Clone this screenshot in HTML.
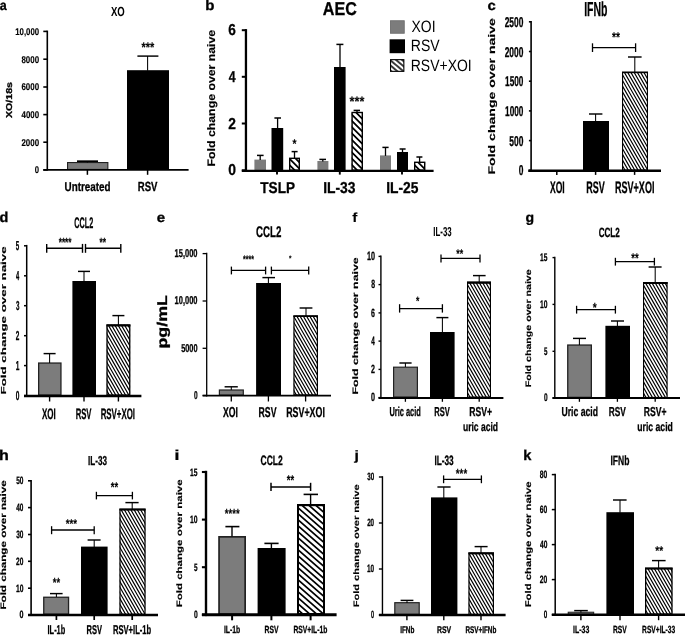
<!DOCTYPE html>
<html lang="en"><head><meta charset="utf-8"><title>Figure</title>
<style>
html,body{margin:0;padding:0;background:#fff;overflow:hidden}
svg{display:block;filter:blur(0.38px)}
text{font-family:"Liberation Sans",Arial,Helvetica,sans-serif;font-weight:700;fill:#000;text-rendering:geometricPrecision}
text.r{font-weight:400}
</style></head><body>
<svg width="685" height="635" viewBox="0 0 685 635">
<defs><pattern id="hl" width="3.9" height="900" patternUnits="userSpaceOnUse" patternTransform="rotate(-50)"><rect width="3.9" height="900" fill="#fff"/><rect x="1.2" width="1.5" height="900" fill="#000"/></pattern></defs>
<rect width="685" height="635" fill="#fff"/>
<text stroke="#000" stroke-width="0.3" transform="translate(-0.23 10.21) scale(0.9063 1)" font-size="13.82">a</text>
<text transform="translate(110.9 15.77) scale(0.7305 1)" font-size="13.1">XO</text>
<text stroke="#000" stroke-width="0.15" transform="translate(15.21 34.73) scale(0.7990 1)" font-size="9.79">10,000</text>
<text stroke="#000" stroke-width="0.15" transform="translate(21.44 62.53) scale(0.8130 1)" font-size="9.79">8000</text>
<text stroke="#000" stroke-width="0.15" transform="translate(21.4 90.33) scale(0.8149 1)" font-size="9.79">6000</text>
<text stroke="#000" stroke-width="0.15" transform="translate(21.56 117.93) scale(0.8074 1)" font-size="9.79">4000</text>
<text stroke="#000" stroke-width="0.15" transform="translate(21.4 145.53) scale(0.8149 1)" font-size="9.79">2000</text>
<text stroke="#000" stroke-width="0.15" transform="translate(34.87 173.33) scale(0.7850 1)" font-size="9.79">0</text>
<rect x="67.55" y="162.55" width="40.3" height="6.9" fill="#7c7c7c" stroke="#222" stroke-width="1.1"/>
<rect x="127" y="70.2" width="42" height="99.8" fill="#000"/>
<path d="M87.4 161.2L87.4 162.5" stroke="#000" stroke-width="1.05"/>
<path d="M77 161.2L98 161.2" stroke="#000" stroke-width="1.7"/>
<path d="M147.6 56.1L147.6 70.7" stroke="#000" stroke-width="1.05"/>
<path d="M137.4 56.1L158.4 56.1" stroke="#000" stroke-width="1.45"/>
<text stroke="#000" stroke-width="0.12" transform="translate(141.51 51.62) scale(0.7808 1)" font-size="14">***</text>
<text stroke="#000" stroke-width="0.3" transform="translate(64.56 190.62) scale(0.7699 1)" font-size="12.79">Untreated</text>
<text stroke="#000" stroke-width="0.3" transform="translate(137.73 190.62) scale(0.7230 1)" font-size="13.24">RSV</text>
<text stroke="#000" stroke-width="0.3" transform="translate(11.63 118.11) rotate(-90) scale(1.2407 1)" font-size="8.59">XO/18s</text>
<text stroke="#000" stroke-width="0.3" transform="translate(205.27 10.21) scale(1.0844 1)" font-size="13.88">b</text>
<text stroke="#000" stroke-width="0.3" transform="translate(322.75 15.36) scale(0.8702 1)" font-size="18.52">AEC</text>
<text stroke="#000" stroke-width="0.3" transform="translate(228.37 35.39) scale(0.8627 1)" font-size="15.77">6</text>
<text stroke="#000" stroke-width="0.3" transform="translate(228.66 81.99) scale(0.7820 1)" font-size="15.77">4</text>
<text stroke="#000" stroke-width="0.3" transform="translate(228.37 128.69) scale(0.8717 1)" font-size="15.77">2</text>
<text stroke="#000" stroke-width="0.3" transform="translate(228.29 175.49) scale(0.8808 1)" font-size="15.77">0</text>
<rect x="254.4" y="159.6" width="11.6" height="11.2" fill="#7c7c7c"/>
<path d="M260.2 155.4L260.2 160.1" stroke="#000" stroke-width="1.3"/>
<path d="M257 155.4L263.6 155.4" stroke="#000" stroke-width="1.5"/>
<rect x="271.5" y="128" width="11.7" height="42.8" fill="#000"/>
<path d="M277.6 118L277.6 128.5" stroke="#000" stroke-width="1.3"/>
<path d="M274.4 118L281 118" stroke="#000" stroke-width="1.5"/>
<rect x="289" y="157.6" width="11" height="13.2" fill="#fff"/>
<clipPath id="c1"><rect x="289.3" y="157.9" width="10.4" height="12.9"/></clipPath>
<path clip-path="url(#c1)" d="M268.5 156.6L283.7 171.8M274.8 156.6L290 171.8M281.1 156.6L296.3 171.8M287.4 156.6L302.6 171.8M293.7 156.6L308.9 171.8" stroke="#000" stroke-width="1.75" fill="none"/>
<rect x="289.7" y="158.3" width="9.6" height="11.8" fill="none" stroke="#000" stroke-width="1.4"/>
<path d="M294.5 151.6L294.5 158.1" stroke="#000" stroke-width="1.3"/>
<path d="M291.6 151.6L297.6 151.6" stroke="#000" stroke-width="1.5"/>
<rect x="317.4" y="161" width="11" height="9.8" fill="#7c7c7c"/>
<path d="M322.8 159.4L322.8 161.5" stroke="#000" stroke-width="1.3"/>
<path d="M319.4 159.4L326 159.4" stroke="#000" stroke-width="1.5"/>
<rect x="334" y="67" width="11.6" height="103.8" fill="#000"/>
<path d="M340 44.4L340 67.5" stroke="#000" stroke-width="1.3"/>
<path d="M336.4 44.4L343.4 44.4" stroke="#000" stroke-width="1.5"/>
<rect x="351.4" y="111.8" width="11.6" height="59" fill="#fff"/>
<clipPath id="c2"><rect x="351.7" y="112.1" width="11" height="58.7"/></clipPath>
<path clip-path="url(#c2)" d="M285.1 110.8L346.1 171.8M291.4 110.8L352.4 171.8M297.7 110.8L358.7 171.8M304 110.8L365 171.8M310.3 110.8L371.3 171.8M316.6 110.8L377.6 171.8M322.9 110.8L383.9 171.8M329.2 110.8L390.2 171.8M335.5 110.8L396.5 171.8M341.8 110.8L402.8 171.8M348.1 110.8L409.1 171.8M354.4 110.8L415.4 171.8M360.7 110.8L421.7 171.8" stroke="#000" stroke-width="1.75" fill="none"/>
<rect x="352.1" y="112.5" width="10.2" height="57.6" fill="none" stroke="#000" stroke-width="1.4"/>
<path d="M357 110.4L357 112.5" stroke="#000" stroke-width="1.3"/>
<path d="M353.6 110.4L360 110.4" stroke="#000" stroke-width="1.5"/>
<rect x="380" y="155.4" width="11" height="15.4" fill="#7c7c7c"/>
<path d="M385.5 147.4L385.5 155.9" stroke="#000" stroke-width="1.3"/>
<path d="M382.4 147.4L388.6 147.4" stroke="#000" stroke-width="1.5"/>
<rect x="397" y="152" width="11" height="18.8" fill="#000"/>
<path d="M402.5 149L402.5 152.5" stroke="#000" stroke-width="1.3"/>
<path d="M399.6 149L405.6 149" stroke="#000" stroke-width="1.5"/>
<rect x="414" y="161.6" width="11.4" height="9.2" fill="#fff"/>
<clipPath id="c3"><rect x="414.3" y="161.9" width="10.8" height="8.9"/></clipPath>
<path clip-path="url(#c3)" d="M397.5 160.6L408.7 171.8M403.8 160.6L415 171.8M410.1 160.6L421.3 171.8M416.4 160.6L427.6 171.8M422.7 160.6L433.9 171.8" stroke="#000" stroke-width="1.75" fill="none"/>
<rect x="414.7" y="162.3" width="10" height="7.8" fill="none" stroke="#000" stroke-width="1.4"/>
<path d="M419.6 157L419.6 162.1" stroke="#000" stroke-width="1.3"/>
<path d="M416.4 157L422.4 157" stroke="#000" stroke-width="1.5"/>
<text stroke="#000" stroke-width="0.12" transform="translate(292.41 148.39) scale(0.8072 1)" font-size="12.65">*</text>
<text stroke="#000" stroke-width="0.12" transform="translate(349.6 105.93) scale(0.9217 1)" font-size="13.73">***</text>
<text stroke="#000" stroke-width="0.3" transform="translate(260.31 193.35) scale(0.8583 1)" font-size="15.8">TSLP</text>
<text stroke="#000" stroke-width="0.3" transform="translate(323.15 193.35) scale(0.8780 1)" font-size="15.8">IL-33</text>
<text stroke="#000" stroke-width="0.3" transform="translate(386.15 193.35) scale(0.8741 1)" font-size="15.8">IL-25</text>
<text stroke="#000" stroke-width="0.15" transform="translate(214.51 166.4) rotate(-90) scale(1.1268 1)" font-size="10.91">Fold change over naive</text>
<rect x="390.45" y="20.75" width="13.8" height="12.5" fill="#7c7c7c" stroke="#6e6e6e" stroke-width="0.9"/>
<rect x="389.6" y="39.3" width="15.4" height="13.9" fill="#000"/>
<rect x="390.55" y="59.65" width="13.3" height="11.7" fill="url(#hl)" stroke="#000" stroke-width="1.1"/>
<text class="r" transform="translate(411.55 32.1) scale(0.8522 1)" font-size="16.38">XOI</text>
<text class="r" transform="translate(410.78 51.4) scale(0.8480 1)" font-size="16.52">RSV</text>
<text class="r" transform="translate(410.78 70.8) scale(0.8451 1)" font-size="16.52">RSV+XOI</text>
<text stroke="#000" stroke-width="0.3" transform="translate(487.46 10.02) scale(1.1034 1)" font-size="13.45">c</text>
<text stroke="#000" stroke-width="0.3" transform="translate(584.17 15.65) scale(0.5173 1)" font-size="20.29">IFNb</text>
<text stroke="#000" stroke-width="0.3" transform="translate(504.66 26.91) scale(0.5918 1)" font-size="14.23">2500</text>
<text stroke="#000" stroke-width="0.3" transform="translate(504.66 56.61) scale(0.5918 1)" font-size="14.23">2000</text>
<text stroke="#000" stroke-width="0.3" transform="translate(505.06 86.31) scale(0.5789 1)" font-size="14.23">1500</text>
<text stroke="#000" stroke-width="0.3" transform="translate(505.06 116.01) scale(0.5789 1)" font-size="14.23">1000</text>
<text stroke="#000" stroke-width="0.3" transform="translate(509.3 145.71) scale(0.5950 1)" font-size="14.23">500</text>
<text stroke="#000" stroke-width="0.3" transform="translate(518.71 175.41) scale(0.5920 1)" font-size="14.23">0</text>
<rect x="583" y="121" width="26" height="49.6" fill="#000"/>
<path d="M595.6 114L595.6 121.5" stroke="#000" stroke-width="1.05"/>
<path d="M589 114L602.4 114" stroke="#000" stroke-width="1.45"/>
<rect x="622" y="71.7" width="26" height="98.9" fill="#fff"/>
<clipPath id="c4"><rect x="622.3" y="72" width="25.4" height="98.6"/></clipPath>
<path clip-path="url(#c4)" d="M561.24 69.95L619.75 172.35M564.49 69.95L623 172.35M567.74 69.95L626.25 172.35M570.99 69.95L629.5 172.35M574.24 69.95L632.75 172.35M577.49 69.95L636 172.35M580.74 69.95L639.25 172.35M583.99 69.95L642.5 172.35M587.24 69.95L645.75 172.35M590.49 69.95L649 172.35M593.74 69.95L652.25 172.35M596.99 69.95L655.5 172.35M600.24 69.95L658.75 172.35M603.49 69.95L662 172.35M606.74 69.95L665.25 172.35M609.99 69.95L668.5 172.35M613.24 69.95L671.75 172.35M616.49 69.95L675 172.35M619.74 69.95L678.25 172.35M622.99 69.95L681.5 172.35M626.24 69.95L684.75 172.35M629.49 69.95L688 172.35M632.74 69.95L691.25 172.35M635.99 69.95L694.5 172.35M639.24 69.95L697.75 172.35M642.49 69.95L701 172.35M645.74 69.95L704.25 172.35" stroke="#000" stroke-width="1.18" fill="none"/>
<rect x="622.55" y="72.25" width="24.9" height="97.8" fill="none" stroke="#000" stroke-width="1.1"/>
<rect x="622" y="71.7" width="26" height="1.5" fill="#000"/>
<path d="M634.8 57L634.8 72.1" stroke="#000" stroke-width="1.05"/>
<path d="M628 57L641.6 57" stroke="#000" stroke-width="1.45"/>
<path d="M592.5 47.7L635.6 47.7" stroke="#000" stroke-width="1.3"/>
<path d="M592.5 43.3L592.5 52" stroke="#000" stroke-width="1.3"/>
<path d="M635.6 43.3L635.6 52" stroke="#000" stroke-width="1.3"/>
<text stroke="#000" stroke-width="0.12" transform="translate(612.01 42.11) scale(0.7171 1)" font-size="14.27">**</text>
<text stroke="#000" stroke-width="0.3" transform="translate(549.96 193.25) scale(0.5143 1)" font-size="16.67">XOI</text>
<text stroke="#000" stroke-width="0.3" transform="translate(586.26 193.25) scale(0.5411 1)" font-size="16.67">RSV</text>
<text stroke="#000" stroke-width="0.3" transform="translate(614.96 193.25) scale(0.5433 1)" font-size="16.67">RSV+XOI</text>
<text stroke="#000" stroke-width="0.15" transform="translate(495.18 174.51) rotate(-90) scale(1.4619 1)" font-size="9.63">Fold change over naive</text>
<text stroke="#000" stroke-width="0.3" transform="translate(-0.43 222.01) scale(1.0216 1)" font-size="14.15">d</text>
<text stroke="#000" stroke-width="0.3" transform="translate(74.36 228.25) scale(0.4708 1)" font-size="15.36">CCL2</text>
<text stroke="#000" stroke-width="0.3" transform="translate(15.86 249.72) scale(0.4785 1)" font-size="12.96">5</text>
<text stroke="#000" stroke-width="0.3" transform="translate(15.96 279.72) scale(0.4472 1)" font-size="12.96">4</text>
<text stroke="#000" stroke-width="0.3" transform="translate(15.89 309.62) scale(0.4833 1)" font-size="12.96">3</text>
<text stroke="#000" stroke-width="0.3" transform="translate(15.82 339.62) scale(0.4984 1)" font-size="12.96">2</text>
<text stroke="#000" stroke-width="0.3" transform="translate(15.65 369.52) scale(0.5090 1)" font-size="12.96">1</text>
<text stroke="#000" stroke-width="0.3" transform="translate(15.79 399.52) scale(0.5037 1)" font-size="12.96">0</text>
<rect x="38.65" y="363.05" width="22.3" height="32" fill="#7c7c7c" stroke="#222" stroke-width="1.3"/>
<path d="M49.6 353.6L49.6 362.9" stroke="#000" stroke-width="1.05"/>
<path d="M43.6 353.6L55.6 353.6" stroke="#000" stroke-width="1.45"/>
<rect x="72.4" y="281" width="23.6" height="114.7" fill="#000"/>
<path d="M84 271.4L84 281.5" stroke="#000" stroke-width="1.05"/>
<path d="M78 271.4L90 271.4" stroke="#000" stroke-width="1.45"/>
<rect x="106.4" y="324.4" width="24" height="71.3" fill="#fff"/>
<clipPath id="c5"><rect x="106.7" y="324.7" width="23.4" height="71"/></clipPath>
<path clip-path="url(#c5)" d="M61.41 322.65L104.15 397.45M64.66 322.65L107.4 397.45M67.91 322.65L110.65 397.45M71.16 322.65L113.9 397.45M74.41 322.65L117.15 397.45M77.66 322.65L120.4 397.45M80.91 322.65L123.65 397.45M84.16 322.65L126.9 397.45M87.41 322.65L130.15 397.45M90.66 322.65L133.4 397.45M93.91 322.65L136.65 397.45M97.16 322.65L139.9 397.45M100.41 322.65L143.15 397.45M103.66 322.65L146.4 397.45M106.91 322.65L149.65 397.45M110.16 322.65L152.9 397.45M113.41 322.65L156.15 397.45M116.66 322.65L159.4 397.45M119.91 322.65L162.65 397.45M123.16 322.65L165.9 397.45M126.41 322.65L169.15 397.45M129.66 322.65L172.4 397.45" stroke="#000" stroke-width="1.18" fill="none"/>
<rect x="107.05" y="325.05" width="22.7" height="70" fill="none" stroke="#000" stroke-width="1.3"/>
<rect x="106.4" y="324.4" width="24" height="2.1" fill="#000"/>
<path d="M118.4 315.6L118.4 324.9" stroke="#000" stroke-width="1.05"/>
<path d="M112.4 315.6L124.4 315.6" stroke="#000" stroke-width="1.45"/>
<path d="M46.7 248.2L82.5 248.2" stroke="#000" stroke-width="1.4"/>
<path d="M46.7 243.9L46.7 252.8" stroke="#000" stroke-width="1.4"/>
<path d="M82.5 243.9L82.5 252.8" stroke="#000" stroke-width="1.4"/>
<path d="M85.5 248.2L120.8 248.2" stroke="#000" stroke-width="1.4"/>
<path d="M85.5 243.9L85.5 252.8" stroke="#000" stroke-width="1.4"/>
<path d="M120.8 243.9L120.8 252.8" stroke="#000" stroke-width="1.4"/>
<text stroke="#000" stroke-width="0.12" transform="translate(58.72 247.25) scale(0.6098 1)" font-size="13.46">****</text>
<text stroke="#000" stroke-width="0.12" transform="translate(99.42 247.25) scale(0.6253 1)" font-size="13.46">**</text>
<text stroke="#000" stroke-width="0.3" transform="translate(41.97 418.55) scale(0.5273 1)" font-size="15.22">XOI</text>
<text stroke="#000" stroke-width="0.3" transform="translate(75.65 418.55) scale(0.5065 1)" font-size="15.22">RSV</text>
<text stroke="#000" stroke-width="0.3" transform="translate(100.64 418.55) scale(0.5173 1)" font-size="15.22">RSV+XOI</text>
<text stroke="#000" stroke-width="0.15" transform="translate(5.67 394.47) rotate(-90) scale(1.8337 1)" font-size="7.27">Fold change over naive</text>
<text stroke="#000" stroke-width="0.3" transform="translate(156.75 222.01) scale(1.1000 1)" font-size="13.64">e</text>
<text stroke="#000" stroke-width="0.3" transform="translate(256.06 236.85) scale(0.6270 1)" font-size="15.51">CCL2</text>
<text stroke="#000" stroke-width="0.3" transform="translate(174.6 257.04) scale(0.6574 1)" font-size="11.41">15,000</text>
<text stroke="#000" stroke-width="0.3" transform="translate(174.6 304.44) scale(0.6574 1)" font-size="11.41">10,000</text>
<text stroke="#000" stroke-width="0.3" transform="translate(181.13 351.74) scale(0.6467 1)" font-size="11.41">5000</text>
<text stroke="#000" stroke-width="0.3" transform="translate(193.89 398.94) scale(0.5721 1)" font-size="11.41">0</text>
<rect x="219.4" y="390" width="23.9" height="5.1" fill="#7c7c7c" stroke="#222" stroke-width="1.2"/>
<path d="M231.3 386.8L231.3 390.1" stroke="#000" stroke-width="1.05"/>
<path d="M224.6 386.8L237.8 386.8" stroke="#000" stroke-width="1.45"/>
<rect x="256.1" y="283" width="24.9" height="112.5" fill="#000"/>
<path d="M268.4 277.6L268.4 283.5" stroke="#000" stroke-width="1.05"/>
<path d="M262.4 277.6L275 277.6" stroke="#000" stroke-width="1.45"/>
<rect x="293.4" y="315.4" width="24.6" height="80.1" fill="#fff"/>
<clipPath id="c6"><rect x="293.7" y="315.7" width="24" height="79.8"/></clipPath>
<path clip-path="url(#c6)" d="M243.38 313.65L291.15 397.25M246.63 313.65L294.4 397.25M249.88 313.65L297.65 397.25M253.13 313.65L300.9 397.25M256.38 313.65L304.15 397.25M259.63 313.65L307.4 397.25M262.88 313.65L310.65 397.25M266.13 313.65L313.9 397.25M269.38 313.65L317.15 397.25M272.63 313.65L320.4 397.25M275.88 313.65L323.65 397.25M279.13 313.65L326.9 397.25M282.38 313.65L330.15 397.25M285.63 313.65L333.4 397.25M288.88 313.65L336.65 397.25M292.13 313.65L339.9 397.25M295.38 313.65L343.15 397.25M298.63 313.65L346.4 397.25M301.88 313.65L349.65 397.25M305.13 313.65L352.9 397.25M308.38 313.65L356.15 397.25M311.63 313.65L359.4 397.25M314.88 313.65L362.65 397.25" stroke="#000" stroke-width="1.18" fill="none"/>
<rect x="294" y="316" width="23.4" height="78.9" fill="none" stroke="#000" stroke-width="1.2"/>
<rect x="293.4" y="315.4" width="24.6" height="1.6" fill="#000"/>
<path d="M306 308L306 315.9" stroke="#000" stroke-width="1.05"/>
<path d="M299.6 308L312.4 308" stroke="#000" stroke-width="1.45"/>
<path d="M231.4 270.4L265.6 270.4" stroke="#000" stroke-width="1.3"/>
<path d="M231.4 266.6L231.4 274.4" stroke="#000" stroke-width="1.3"/>
<path d="M265.6 266.6L265.6 274.4" stroke="#000" stroke-width="1.3"/>
<path d="M271.4 270.4L308.7 270.4" stroke="#000" stroke-width="1.3"/>
<path d="M271.4 266.6L271.4 274.4" stroke="#000" stroke-width="1.3"/>
<path d="M308.7 266.6L308.7 274.4" stroke="#000" stroke-width="1.3"/>
<text stroke="#000" stroke-width="0.12" transform="translate(243.02 262.87) scale(0.6386 1)" font-size="11.03">****</text>
<text stroke="#000" stroke-width="0.12" transform="translate(289.03 261.42) scale(0.7776 1)" font-size="8.05">*</text>
<text stroke="#000" stroke-width="0.3" transform="translate(223.06 417.45) scale(0.6059 1)" font-size="14.35">XOI</text>
<text stroke="#000" stroke-width="0.3" transform="translate(258.58 417.45) scale(0.6074 1)" font-size="14.35">RSV</text>
<text stroke="#000" stroke-width="0.3" transform="translate(286.17 417.45) scale(0.6179 1)" font-size="14.35">RSV+XOI</text>
<text stroke="#000" stroke-width="0.3" transform="translate(167.44 348.56) rotate(-90) scale(1.2631 1)" font-size="14.12">pg/mL</text>
<text stroke="#000" stroke-width="0.1" transform="translate(352.22 222.25) scale(1.1564 1)" font-size="13.24">f</text>
<text stroke="#000" stroke-width="0.05" transform="translate(433.31 236.17) scale(0.6054 1)" font-size="12.97">IL-33</text>
<text stroke="#000" stroke-width="0.3" transform="translate(367.02 260.03) scale(0.6037 1)" font-size="11.97">10</text>
<text stroke="#000" stroke-width="0.3" transform="translate(371.14 288.23) scale(0.5737 1)" font-size="11.97">8</text>
<text stroke="#000" stroke-width="0.3" transform="translate(371.1 316.53) scale(0.5856 1)" font-size="11.97">6</text>
<text stroke="#000" stroke-width="0.3" transform="translate(371.25 344.73) scale(0.5308 1)" font-size="11.97">4</text>
<text stroke="#000" stroke-width="0.3" transform="translate(371.1 373.03) scale(0.5917 1)" font-size="11.97">2</text>
<text stroke="#000" stroke-width="0.3" transform="translate(371.06 401.23) scale(0.5979 1)" font-size="11.97">0</text>
<rect x="393.6" y="367.2" width="23.8" height="29.8" fill="#7c7c7c" stroke="#222" stroke-width="1.2"/>
<path d="M405.4 363L405.4 367.1" stroke="#000" stroke-width="1.05"/>
<path d="M399.4 363L411.6 363" stroke="#000" stroke-width="1.45"/>
<rect x="430" y="332" width="24.6" height="65.6" fill="#000"/>
<path d="M442.4 317.6L442.4 332.5" stroke="#000" stroke-width="1.05"/>
<path d="M436.4 317.6L448.4 317.6" stroke="#000" stroke-width="1.45"/>
<rect x="467" y="281.6" width="24" height="116" fill="#fff"/>
<clipPath id="c7"><rect x="467.3" y="281.9" width="23.4" height="115.7"/></clipPath>
<path clip-path="url(#c7)" d="M396.46 279.85L464.75 399.35M399.71 279.85L468 399.35M402.96 279.85L471.25 399.35M406.21 279.85L474.5 399.35M409.46 279.85L477.75 399.35M412.71 279.85L481 399.35M415.96 279.85L484.25 399.35M419.21 279.85L487.5 399.35M422.46 279.85L490.75 399.35M425.71 279.85L494 399.35M428.96 279.85L497.25 399.35M432.21 279.85L500.5 399.35M435.46 279.85L503.75 399.35M438.71 279.85L507 399.35M441.96 279.85L510.25 399.35M445.21 279.85L513.5 399.35M448.46 279.85L516.75 399.35M451.71 279.85L520 399.35M454.96 279.85L523.25 399.35M458.21 279.85L526.5 399.35M461.46 279.85L529.75 399.35M464.71 279.85L533 399.35M467.96 279.85L536.25 399.35M471.21 279.85L539.5 399.35M474.46 279.85L542.75 399.35M477.71 279.85L546 399.35M480.96 279.85L549.25 399.35M484.21 279.85L552.5 399.35M487.46 279.85L555.75 399.35M490.71 279.85L559 399.35" stroke="#000" stroke-width="1.18" fill="none"/>
<rect x="467.55" y="282.15" width="22.9" height="114.9" fill="none" stroke="#000" stroke-width="1.1"/>
<rect x="467" y="281.6" width="24" height="2.2" fill="#000"/>
<path d="M479.2 275.6L479.2 282.1" stroke="#000" stroke-width="1.05"/>
<path d="M473 275.6L485.6 275.6" stroke="#000" stroke-width="1.45"/>
<path d="M399.6 308.6L442.4 308.6" stroke="#000" stroke-width="1.3"/>
<path d="M399.6 304.2L399.6 312.6" stroke="#000" stroke-width="1.3"/>
<path d="M442.4 304.2L442.4 312.6" stroke="#000" stroke-width="1.3"/>
<text stroke="#000" stroke-width="0.12" transform="translate(416.02 305.41) scale(0.7129 1)" font-size="12.11">*</text>
<path d="M441 258.4L480 258.4" stroke="#000" stroke-width="1.3"/>
<path d="M441 254.6L441 262.6" stroke="#000" stroke-width="1.3"/>
<path d="M480 254.6L480 262.6" stroke="#000" stroke-width="1.3"/>
<text stroke="#000" stroke-width="0.12" transform="translate(456.22 257.99) scale(0.7064 1)" font-size="12.65">**</text>
<text stroke="#000" stroke-width="0.3" transform="translate(389.4 416.32) scale(0.5722 1)" font-size="13">Uric acid</text>
<text stroke="#000" stroke-width="0.3" transform="translate(434.26 416.32) scale(0.5813 1)" font-size="13">RSV</text>
<text stroke="#000" stroke-width="0.3" transform="translate(469.29 416.32) scale(0.6645 1)" font-size="13">RSV+</text>
<text stroke="#000" stroke-width="0.3" transform="translate(462.94 430.93) scale(0.6891 1)" font-size="12.38">uric acid</text>
<text stroke="#000" stroke-width="0.15" transform="translate(357.94 394.6) rotate(-90) scale(1.5623 1)" font-size="7.91">Fold change over naive</text>
<text stroke="#000" stroke-width="0.3" transform="translate(525.59 222.29) scale(1.0338 1)" font-size="13.6">g</text>
<text stroke="#000" stroke-width="0.3" transform="translate(598.63 237.15) scale(0.6077 1)" font-size="13.33">CCL2</text>
<text stroke="#000" stroke-width="0.3" transform="translate(540.05 261.04) scale(0.6039 1)" font-size="10.99">15</text>
<text stroke="#000" stroke-width="0.3" transform="translate(540.05 307.84) scale(0.6128 1)" font-size="10.99">10</text>
<text stroke="#000" stroke-width="0.3" transform="translate(543.96 354.74) scale(0.5644 1)" font-size="10.99">5</text>
<text stroke="#000" stroke-width="0.3" transform="translate(543.89 401.44) scale(0.5941 1)" font-size="10.99">0</text>
<rect x="567.75" y="345.05" width="23.6" height="52.3" fill="#7c7c7c" stroke="#222" stroke-width="1.3"/>
<path d="M579.4 338.4L579.4 344.9" stroke="#000" stroke-width="1.05"/>
<path d="M573 338.4L586 338.4" stroke="#000" stroke-width="1.45"/>
<rect x="605.4" y="325.8" width="24.6" height="72.2" fill="#000"/>
<path d="M617.4 321L617.4 326.3" stroke="#000" stroke-width="1.05"/>
<path d="M611 321L624 321" stroke="#000" stroke-width="1.45"/>
<rect x="643" y="282" width="24.6" height="116" fill="#fff"/>
<clipPath id="c8"><rect x="643.3" y="282.3" width="24" height="115.7"/></clipPath>
<path clip-path="url(#c8)" d="M572.46 280.25L640.75 399.75M575.71 280.25L644 399.75M578.96 280.25L647.25 399.75M582.21 280.25L650.5 399.75M585.46 280.25L653.75 399.75M588.71 280.25L657 399.75M591.96 280.25L660.25 399.75M595.21 280.25L663.5 399.75M598.46 280.25L666.75 399.75M601.71 280.25L670 399.75M604.96 280.25L673.25 399.75M608.21 280.25L676.5 399.75M611.46 280.25L679.75 399.75M614.71 280.25L683 399.75M617.96 280.25L686.25 399.75M621.21 280.25L689.5 399.75M624.46 280.25L692.75 399.75M627.71 280.25L696 399.75M630.96 280.25L699.25 399.75M634.21 280.25L702.5 399.75M637.46 280.25L705.75 399.75M640.71 280.25L709 399.75M643.96 280.25L712.25 399.75M647.21 280.25L715.5 399.75M650.46 280.25L718.75 399.75M653.71 280.25L722 399.75M656.96 280.25L725.25 399.75M660.21 280.25L728.5 399.75M663.46 280.25L731.75 399.75M666.71 280.25L735 399.75" stroke="#000" stroke-width="1.18" fill="none"/>
<rect x="643.55" y="282.55" width="23.5" height="114.9" fill="none" stroke="#000" stroke-width="1.1"/>
<rect x="643" y="282" width="24.6" height="2" fill="#000"/>
<path d="M655.2 267L655.2 282.5" stroke="#000" stroke-width="1.05"/>
<path d="M648.6 267L661.6 267" stroke="#000" stroke-width="1.45"/>
<path d="M576.6 309.6L615.4 309.6" stroke="#000" stroke-width="1.3"/>
<path d="M576.6 305.8L576.6 313.6" stroke="#000" stroke-width="1.3"/>
<path d="M615.4 305.8L615.4 313.6" stroke="#000" stroke-width="1.3"/>
<text stroke="#000" stroke-width="0.12" transform="translate(592.81 312.16) scale(0.7742 1)" font-size="13.19">*</text>
<path d="M615.4 261.6L654.4 261.6" stroke="#000" stroke-width="1.3"/>
<path d="M615.4 257.8L615.4 265.6" stroke="#000" stroke-width="1.3"/>
<path d="M654.4 257.8L654.4 265.6" stroke="#000" stroke-width="1.3"/>
<text stroke="#000" stroke-width="0.12" transform="translate(631.21 262.91) scale(0.6625 1)" font-size="14.27">**</text>
<text stroke="#000" stroke-width="0.3" transform="translate(561.43 416.32) scale(0.6642 1)" font-size="13">Uric acid</text>
<text stroke="#000" stroke-width="0.3" transform="translate(608.71 416.32) scale(0.6394 1)" font-size="13">RSV</text>
<text stroke="#000" stroke-width="0.3" transform="translate(643.79 416.32) scale(0.6615 1)" font-size="13">RSV+</text>
<text stroke="#000" stroke-width="0.3" transform="translate(637.23 430.93) scale(0.6993 1)" font-size="12.38">uric acid</text>
<text stroke="#000" stroke-width="0.15" transform="translate(530.74 387.29) rotate(-90) scale(1.3421 1)" font-size="7.91">Fold change over naive</text>
<text stroke="#000" stroke-width="0.3" transform="translate(-0.97 460.05) scale(1.1291 1)" font-size="14.21">h</text>
<text stroke="#000" stroke-width="0.3" transform="translate(88.02 464.55) scale(0.6209 1)" font-size="13.04">IL-33</text>
<text stroke="#000" stroke-width="0.3" transform="translate(16.15 484.24) scale(0.6108 1)" font-size="10.7">50</text>
<text stroke="#000" stroke-width="0.3" transform="translate(16.25 511.04) scale(0.6021 1)" font-size="10.7">40</text>
<text stroke="#000" stroke-width="0.3" transform="translate(16.19 537.94) scale(0.6079 1)" font-size="10.7">30</text>
<text stroke="#000" stroke-width="0.3" transform="translate(16.12 564.74) scale(0.6138 1)" font-size="10.7">20</text>
<text stroke="#000" stroke-width="0.3" transform="translate(15.95 591.64) scale(0.6290 1)" font-size="10.7">10</text>
<text stroke="#000" stroke-width="0.3" transform="translate(19.46 618.44) scale(0.6687 1)" font-size="10.7">0</text>
<rect x="43.75" y="597.25" width="24.8" height="16.9" fill="#7c7c7c" stroke="#222" stroke-width="1.3"/>
<path d="M56.4 593.6L56.4 597.1" stroke="#000" stroke-width="1.05"/>
<path d="M50 593.6L62.6 593.6" stroke="#000" stroke-width="1.45"/>
<rect x="81" y="546.6" width="26.6" height="68.2" fill="#000"/>
<path d="M94.2 540L94.2 547.1" stroke="#000" stroke-width="1.05"/>
<path d="M87.6 540L100.6 540" stroke="#000" stroke-width="1.45"/>
<rect x="119.4" y="508.6" width="26.2" height="106.2" fill="#fff"/>
<clipPath id="c9"><rect x="119.7" y="508.9" width="25.6" height="105.9"/></clipPath>
<path clip-path="url(#c9)" d="M54.46 506.85L117.15 616.55M57.71 506.85L120.4 616.55M60.96 506.85L123.65 616.55M64.21 506.85L126.9 616.55M67.46 506.85L130.15 616.55M70.71 506.85L133.4 616.55M73.96 506.85L136.65 616.55M77.21 506.85L139.9 616.55M80.46 506.85L143.15 616.55M83.71 506.85L146.4 616.55M86.96 506.85L149.65 616.55M90.21 506.85L152.9 616.55M93.46 506.85L156.15 616.55M96.71 506.85L159.4 616.55M99.96 506.85L162.65 616.55M103.21 506.85L165.9 616.55M106.46 506.85L169.15 616.55M109.71 506.85L172.4 616.55M112.96 506.85L175.65 616.55M116.21 506.85L178.9 616.55M119.46 506.85L182.15 616.55M122.71 506.85L185.4 616.55M125.96 506.85L188.65 616.55M129.21 506.85L191.9 616.55M132.46 506.85L195.15 616.55M135.71 506.85L198.4 616.55M138.96 506.85L201.65 616.55M142.21 506.85L204.9 616.55M145.46 506.85L208.15 616.55" stroke="#000" stroke-width="1.18" fill="none"/>
<rect x="120" y="509.2" width="25" height="105" fill="none" stroke="#000" stroke-width="1.2"/>
<rect x="119.4" y="508.6" width="26.2" height="2" fill="#000"/>
<path d="M132.2 502.6L132.2 509.1" stroke="#000" stroke-width="1.05"/>
<path d="M125.4 502.6L138.6 502.6" stroke="#000" stroke-width="1.45"/>
<path d="M51.6 530L94.2 530" stroke="#000" stroke-width="1.3"/>
<path d="M51.6 526.2L51.6 534.2" stroke="#000" stroke-width="1.3"/>
<path d="M94.2 526.2L94.2 534.2" stroke="#000" stroke-width="1.3"/>
<text stroke="#000" stroke-width="0.12" transform="translate(65.81 528.39) scale(0.7688 1)" font-size="12.65">***</text>
<path d="M96.4 495.6L132.4 495.6" stroke="#000" stroke-width="1.3"/>
<path d="M96.4 491.8L96.4 499.4" stroke="#000" stroke-width="1.3"/>
<path d="M132.4 491.8L132.4 499.4" stroke="#000" stroke-width="1.3"/>
<text stroke="#000" stroke-width="0.12" transform="translate(110.81 491.91) scale(0.6625 1)" font-size="14.27">**</text>
<text stroke="#000" stroke-width="0.12" transform="translate(52.81 587.16) scale(0.7168 1)" font-size="13.19">**</text>
<text stroke="#000" stroke-width="0.3" transform="translate(47.57 634.25) scale(0.5799 1)" font-size="12.75">IL-1b</text>
<text stroke="#000" stroke-width="0.3" transform="translate(86.56 634.25) scale(0.5886 1)" font-size="12.75">RSV</text>
<text stroke="#000" stroke-width="0.3" transform="translate(112.96 634.25) scale(0.5970 1)" font-size="12.75">RSV+IL-1b</text>
<text stroke="#000" stroke-width="0.15" transform="translate(6.14 609.56) rotate(-90) scale(1.4706 1)" font-size="7.91">Fold change over naive</text>
<text stroke="#000" stroke-width="0.05" transform="translate(174.05 459.98) scale(1.5051 1)" font-size="14">i</text>
<text stroke="#000" stroke-width="0.3" transform="translate(260.61 464.55) scale(0.6238 1)" font-size="13.62">CCL2</text>
<text stroke="#000" stroke-width="0.3" transform="translate(190.05 475.54) scale(0.6289 1)" font-size="10.7">15</text>
<text stroke="#000" stroke-width="0.3" transform="translate(190.04 523.14) scale(0.6382 1)" font-size="10.7">10</text>
<text stroke="#000" stroke-width="0.3" transform="translate(193.96 570.74) scale(0.5979 1)" font-size="10.7">5</text>
<text stroke="#000" stroke-width="0.3" transform="translate(193.88 618.34) scale(0.6294 1)" font-size="10.7">0</text>
<rect x="219.05" y="536.85" width="26.1" height="77.3" fill="#7c7c7c" stroke="#222" stroke-width="1.7"/>
<path d="M232 526.6L232 536.5" stroke="#000" stroke-width="1.4"/>
<path d="M225.4 526.6L239.4 526.6" stroke="#000" stroke-width="1.6"/>
<rect x="257.6" y="548" width="28" height="67" fill="#000"/>
<path d="M271.4 543.4L271.4 548.5" stroke="#000" stroke-width="1.4"/>
<path d="M264.4 543.4L278.6 543.4" stroke="#000" stroke-width="1.6"/>
<rect x="297" y="504" width="28" height="111" fill="#fff"/>
<clipPath id="c10"><rect x="297.3" y="504.3" width="27.4" height="110.7"/></clipPath>
<path clip-path="url(#c10)" d="M161.51 503.13L291.1 615.87M168.41 503.13L298 615.87M175.31 503.13L304.9 615.87M182.21 503.13L311.8 615.87M189.11 503.13L318.7 615.87M196.01 503.13L325.6 615.87M202.91 503.13L332.5 615.87M209.81 503.13L339.4 615.87M216.71 503.13L346.3 615.87M223.61 503.13L353.2 615.87M230.51 503.13L360.1 615.87M237.41 503.13L367 615.87M244.31 503.13L373.9 615.87M251.21 503.13L380.8 615.87M258.11 503.13L387.7 615.87M265.01 503.13L394.6 615.87M271.91 503.13L401.5 615.87M278.81 503.13L408.4 615.87M285.71 503.13L415.3 615.87M292.61 503.13L422.2 615.87M299.51 503.13L429.1 615.87M306.41 503.13L436 615.87M313.31 503.13L442.9 615.87M320.21 503.13L449.8 615.87" stroke="#000" stroke-width="1.7" fill="none"/>
<rect x="298" y="505" width="26" height="109" fill="none" stroke="#000" stroke-width="2"/>
<rect x="297" y="504" width="28" height="2.2" fill="#000"/>
<path d="M310.6 494.4L310.6 504.5" stroke="#000" stroke-width="1.4"/>
<path d="M303.6 494.4L318 494.4" stroke="#000" stroke-width="1.6"/>
<path d="M271 487L310.6 487" stroke="#000" stroke-width="1.5"/>
<path d="M271 482.8L271 491" stroke="#000" stroke-width="1.5"/>
<path d="M310.6 482.8L310.6 491" stroke="#000" stroke-width="1.5"/>
<text stroke="#000" stroke-width="0.12" transform="translate(286.81 485.11) scale(0.6625 1)" font-size="14.27">**</text>
<text stroke="#000" stroke-width="0.12" transform="translate(224.81 517.76) scale(0.7204 1)" font-size="13.19">****</text>
<text stroke="#000" stroke-width="0.3" transform="translate(223.9 633.15) scale(0.6585 1)" font-size="10.43">IL-1b</text>
<text stroke="#000" stroke-width="0.3" transform="translate(264.51 633.15) scale(0.6518 1)" font-size="10.43">RSV</text>
<text stroke="#000" stroke-width="0.3" transform="translate(293.51 633.15) scale(0.6441 1)" font-size="10.43">RSV+IL-1b</text>
<text stroke="#000" stroke-width="0.15" transform="translate(181.54 607.35) rotate(-90) scale(1.4568 1)" font-size="7.91">Fold change over naive</text>
<text stroke="#000" stroke-width="0.1" transform="translate(354.31 459.7) scale(1.2761 1)" font-size="13.58">j</text>
<text stroke="#000" stroke-width="0.3" transform="translate(434.41 464.55) scale(0.6076 1)" font-size="13.62">IL-33</text>
<text stroke="#000" stroke-width="0.3" transform="translate(367.19 480.44) scale(0.5888 1)" font-size="10.56">30</text>
<text stroke="#000" stroke-width="0.3" transform="translate(367.13 526.44) scale(0.5945 1)" font-size="10.56">20</text>
<text stroke="#000" stroke-width="0.3" transform="translate(366.96 572.44) scale(0.6092 1)" font-size="10.56">10</text>
<text stroke="#000" stroke-width="0.3" transform="translate(371.03 618.44) scale(0.5182 1)" font-size="10.56">0</text>
<rect x="394.8" y="602.7" width="24.4" height="11.7" fill="#7c7c7c" stroke="#222" stroke-width="1.2"/>
<path d="M407 600.4L407 602.9" stroke="#000" stroke-width="1.05"/>
<path d="M400.6 600.4L413.4 600.4" stroke="#000" stroke-width="1.45"/>
<rect x="431" y="497.4" width="26.4" height="117.6" fill="#000"/>
<path d="M443.8 487L443.8 497.9" stroke="#000" stroke-width="1.05"/>
<path d="M437.4 487L450.6 487" stroke="#000" stroke-width="1.45"/>
<rect x="468.4" y="552.4" width="25.6" height="62.6" fill="#fff"/>
<clipPath id="c11"><rect x="468.7" y="552.7" width="25" height="62.3"/></clipPath>
<path clip-path="url(#c11)" d="M428.38 550.65L466.15 616.75M431.63 550.65L469.4 616.75M434.88 550.65L472.65 616.75M438.13 550.65L475.9 616.75M441.38 550.65L479.15 616.75M444.63 550.65L482.4 616.75M447.88 550.65L485.65 616.75M451.13 550.65L488.9 616.75M454.38 550.65L492.15 616.75M457.63 550.65L495.4 616.75M460.88 550.65L498.65 616.75M464.13 550.65L501.9 616.75M467.38 550.65L505.15 616.75M470.63 550.65L508.4 616.75M473.88 550.65L511.65 616.75M477.13 550.65L514.9 616.75M480.38 550.65L518.15 616.75M483.63 550.65L521.4 616.75M486.88 550.65L524.65 616.75M490.13 550.65L527.9 616.75M493.38 550.65L531.15 616.75" stroke="#000" stroke-width="1.18" fill="none"/>
<rect x="469" y="553" width="24.4" height="61.4" fill="none" stroke="#000" stroke-width="1.2"/>
<rect x="468.4" y="552.4" width="25.6" height="2" fill="#000"/>
<path d="M481 546.6L481 552.9" stroke="#000" stroke-width="1.05"/>
<path d="M474.6 546.6L487.6 546.6" stroke="#000" stroke-width="1.45"/>
<path d="M443.6 479.4L481.4 479.4" stroke="#000" stroke-width="1.3"/>
<path d="M443.6 475.4L443.6 483.2" stroke="#000" stroke-width="1.3"/>
<path d="M481.4 475.4L481.4 483.2" stroke="#000" stroke-width="1.3"/>
<text stroke="#000" stroke-width="0.12" transform="translate(455.81 477.76) scale(0.7373 1)" font-size="13.19">***</text>
<text stroke="#000" stroke-width="0.3" transform="translate(400.14 633.15) scale(0.6574 1)" font-size="9.71">IFNb</text>
<text stroke="#000" stroke-width="0.3" transform="translate(436.9 633.15) scale(0.7108 1)" font-size="9.71">RSV</text>
<text stroke="#000" stroke-width="0.3" transform="translate(465.54 633.15) scale(0.6519 1)" font-size="9.71">RSV+IFNb</text>
<text stroke="#000" stroke-width="0.15" transform="translate(359.14 607.32) rotate(-90) scale(1.3994 1)" font-size="7.91">Fold change over naive</text>
<text stroke="#000" stroke-width="0.3" transform="translate(523.13 460.05) scale(1.0304 1)" font-size="14.21">k</text>
<text stroke="#000" stroke-width="0.3" transform="translate(610.39 464.55) scale(0.6282 1)" font-size="13.62">IFNb</text>
<text stroke="#000" stroke-width="0.3" transform="translate(539.85 478.14) scale(0.6288 1)" font-size="10.7">80</text>
<text stroke="#000" stroke-width="0.3" transform="translate(539.81 513.14) scale(0.6318 1)" font-size="10.7">60</text>
<text stroke="#000" stroke-width="0.3" transform="translate(539.95 548.14) scale(0.6199 1)" font-size="10.7">40</text>
<text stroke="#000" stroke-width="0.3" transform="translate(539.81 583.14) scale(0.6318 1)" font-size="10.7">20</text>
<text stroke="#000" stroke-width="0.3" transform="translate(543.8 618.14) scale(0.5900 1)" font-size="10.7">0</text>
<rect x="568.2" y="612.2" width="25.5" height="2.1" fill="#7c7c7c" stroke="#222" stroke-width="1"/>
<path d="M580.9 610.6L580.9 612.5" stroke="#000" stroke-width="1.05"/>
<path d="M574.2 610.6L587.8 610.6" stroke="#000" stroke-width="1.45"/>
<rect x="606.4" y="512.2" width="27.6" height="102.6" fill="#000"/>
<path d="M620 500L620 512.7" stroke="#000" stroke-width="1.05"/>
<path d="M613 500L626.6 500" stroke="#000" stroke-width="1.45"/>
<rect x="645" y="567.6" width="27.6" height="47.2" fill="#fff"/>
<clipPath id="c12"><rect x="645.3" y="567.9" width="27" height="46.9"/></clipPath>
<path clip-path="url(#c12)" d="M613.78 565.85L642.75 616.55M617.03 565.85L646 616.55M620.28 565.85L649.25 616.55M623.53 565.85L652.5 616.55M626.78 565.85L655.75 616.55M630.03 565.85L659 616.55M633.28 565.85L662.25 616.55M636.53 565.85L665.5 616.55M639.78 565.85L668.75 616.55M643.03 565.85L672 616.55M646.28 565.85L675.25 616.55M649.53 565.85L678.5 616.55M652.78 565.85L681.75 616.55M656.03 565.85L685 616.55M659.28 565.85L688.25 616.55M662.53 565.85L691.5 616.55M665.78 565.85L694.75 616.55M669.03 565.85L698 616.55M672.28 565.85L701.25 616.55" stroke="#000" stroke-width="1.18" fill="none"/>
<rect x="645.65" y="568.25" width="26.3" height="45.9" fill="none" stroke="#000" stroke-width="1.3"/>
<rect x="645" y="567.6" width="27.6" height="2" fill="#000"/>
<path d="M658.6 560.6L658.6 568.1" stroke="#000" stroke-width="1.05"/>
<path d="M652 560.6L665.6 560.6" stroke="#000" stroke-width="1.45"/>
<text stroke="#000" stroke-width="0.12" transform="translate(655.21 555.39) scale(0.8091 1)" font-size="12.65">**</text>
<text stroke="#000" stroke-width="0.3" transform="translate(573.1 633.15) scale(0.6646 1)" font-size="10.43">IL-33</text>
<text stroke="#000" stroke-width="0.3" transform="translate(612.91 633.15) scale(0.6421 1)" font-size="10.43">RSV</text>
<text stroke="#000" stroke-width="0.3" transform="translate(642.12 633.15) scale(0.6389 1)" font-size="10.43">RSV+IL-33</text>
<text stroke="#000" stroke-width="0.15" transform="translate(531.05 607.34) rotate(-90) scale(1.3603 1)" font-size="8.34">Fold change over naive</text>
<path d="M47.3 30.6L47.3 170.6" stroke="#000" stroke-width="1.6"/>
<path d="M43.3 31.4L47.3 31.4" stroke="#000" stroke-width="1.6"/>
<path d="M43.3 59.2L47.3 59.2" stroke="#000" stroke-width="1.6"/>
<path d="M43.3 87L47.3 87" stroke="#000" stroke-width="1.6"/>
<path d="M43.3 114.6L47.3 114.6" stroke="#000" stroke-width="1.6"/>
<path d="M43.3 142.2L47.3 142.2" stroke="#000" stroke-width="1.6"/>
<path d="M43.3 170L47.3 170" stroke="#000" stroke-width="1.6"/>
<path d="M43.3 169.8L188.6 169.8" stroke="#000" stroke-width="1.8"/>
<path d="M87.4 169.8L87.4 174.8" stroke="#000" stroke-width="1.5"/>
<path d="M147.6 169.8L147.6 174.8" stroke="#000" stroke-width="1.5"/>
<path d="M245.95 29.1L245.95 172" stroke="#000" stroke-width="2.3"/>
<path d="M241.8 30.2L245.95 30.2" stroke="#000" stroke-width="2"/>
<path d="M241.8 76.8L245.95 76.8" stroke="#000" stroke-width="2"/>
<path d="M241.8 123.5L245.95 123.5" stroke="#000" stroke-width="2"/>
<path d="M241.8 170.3L245.95 170.3" stroke="#000" stroke-width="2"/>
<path d="M241.8 170.85L433.6 170.85" stroke="#000" stroke-width="2.3"/>
<path d="M277 170.85L277 174.6" stroke="#000" stroke-width="1.9"/>
<path d="M339.8 170.85L339.8 174.6" stroke="#000" stroke-width="1.9"/>
<path d="M402 170.85L402 174.6" stroke="#000" stroke-width="1.9"/>
<path d="M531.1 20.9L531.1 171.8" stroke="#000" stroke-width="1.6"/>
<path d="M528.9 21.8L531.1 21.8" stroke="#000" stroke-width="1.6"/>
<path d="M528.9 51.5L531.1 51.5" stroke="#000" stroke-width="1.6"/>
<path d="M528.9 81.2L531.1 81.2" stroke="#000" stroke-width="1.6"/>
<path d="M528.9 110.9L531.1 110.9" stroke="#000" stroke-width="1.6"/>
<path d="M528.9 140.6L531.1 140.6" stroke="#000" stroke-width="1.6"/>
<path d="M528.9 170.3L531.1 170.3" stroke="#000" stroke-width="1.6"/>
<path d="M528.2 170.8L661 170.8" stroke="#000" stroke-width="2.4"/>
<path d="M556.8 170.8L556.8 174.9" stroke="#000" stroke-width="1.5"/>
<path d="M595.6 170.8L595.6 174.9" stroke="#000" stroke-width="1.5"/>
<path d="M634.6 170.8L634.6 174.9" stroke="#000" stroke-width="1.5"/>
<path d="M26.7 244.9L26.7 397" stroke="#000" stroke-width="1.5"/>
<path d="M24 245.8L26.7 245.8" stroke="#000" stroke-width="1.5"/>
<path d="M24 275.8L26.7 275.8" stroke="#000" stroke-width="1.5"/>
<path d="M24 305.7L26.7 305.7" stroke="#000" stroke-width="1.5"/>
<path d="M24 335.7L26.7 335.7" stroke="#000" stroke-width="1.5"/>
<path d="M24 365.6L26.7 365.6" stroke="#000" stroke-width="1.5"/>
<path d="M24 395.6L26.7 395.6" stroke="#000" stroke-width="1.5"/>
<path d="M24 396L141.4 396" stroke="#000" stroke-width="2.3"/>
<path d="M49.6 396L49.6 401.5" stroke="#000" stroke-width="1.4"/>
<path d="M84 396L84 401.5" stroke="#000" stroke-width="1.4"/>
<path d="M118.4 396L118.4 401.5" stroke="#000" stroke-width="1.4"/>
<path d="M206.7 252.8L206.7 396.4" stroke="#000" stroke-width="1.3"/>
<path d="M202.6 253.6L206.7 253.6" stroke="#000" stroke-width="1.3"/>
<path d="M202.6 301L206.7 301" stroke="#000" stroke-width="1.3"/>
<path d="M202.6 348.3L206.7 348.3" stroke="#000" stroke-width="1.3"/>
<path d="M202.6 395.5L206.7 395.5" stroke="#000" stroke-width="1.3"/>
<path d="M202.6 395.7L331 395.7" stroke="#000" stroke-width="1.7"/>
<path d="M231.3 395.7L231.3 401.5" stroke="#000" stroke-width="1.3"/>
<path d="M268.4 395.7L268.4 401.5" stroke="#000" stroke-width="1.3"/>
<path d="M305.6 395.7L305.6 401.5" stroke="#000" stroke-width="1.3"/>
<path d="M380.9 255.6L380.9 398.8" stroke="#000" stroke-width="1.4"/>
<path d="M378.5 256.4L380.9 256.4" stroke="#000" stroke-width="1.4"/>
<path d="M378.5 284.6L380.9 284.6" stroke="#000" stroke-width="1.4"/>
<path d="M378.5 312.9L380.9 312.9" stroke="#000" stroke-width="1.4"/>
<path d="M378.5 341.1L380.9 341.1" stroke="#000" stroke-width="1.4"/>
<path d="M378.5 369.4L380.9 369.4" stroke="#000" stroke-width="1.4"/>
<path d="M378.5 397.6L380.9 397.6" stroke="#000" stroke-width="1.4"/>
<path d="M378.5 397.95L503.4 397.95" stroke="#000" stroke-width="2.1"/>
<path d="M405.4 397.95L405.4 401.8" stroke="#000" stroke-width="1.3"/>
<path d="M442.4 397.95L442.4 401.8" stroke="#000" stroke-width="1.3"/>
<path d="M479.2 397.95L479.2 401.8" stroke="#000" stroke-width="1.3"/>
<path d="M554.8 256.8L554.8 399.1" stroke="#000" stroke-width="1.4"/>
<path d="M552.5 257.6L554.8 257.6" stroke="#000" stroke-width="1.4"/>
<path d="M552.5 304.4L554.8 304.4" stroke="#000" stroke-width="1.4"/>
<path d="M552.5 351.3L554.8 351.3" stroke="#000" stroke-width="1.4"/>
<path d="M552.5 398L554.8 398" stroke="#000" stroke-width="1.4"/>
<path d="M552.5 398.1L680 398.1" stroke="#000" stroke-width="2"/>
<path d="M579.4 398.1L579.4 401.8" stroke="#000" stroke-width="1.3"/>
<path d="M617.4 398.1L617.4 401.8" stroke="#000" stroke-width="1.3"/>
<path d="M655.2 398.1L655.2 401.8" stroke="#000" stroke-width="1.3"/>
<path d="M31.1 479.9L31.1 616" stroke="#000" stroke-width="1.6"/>
<path d="M28 480.8L31.1 480.8" stroke="#000" stroke-width="1.6"/>
<path d="M28 507.6L31.1 507.6" stroke="#000" stroke-width="1.6"/>
<path d="M28 534.5L31.1 534.5" stroke="#000" stroke-width="1.6"/>
<path d="M28 561.3L31.1 561.3" stroke="#000" stroke-width="1.6"/>
<path d="M28 588.2L31.1 588.2" stroke="#000" stroke-width="1.6"/>
<path d="M28 615L31.1 615" stroke="#000" stroke-width="1.6"/>
<path d="M28 615L158 615" stroke="#000" stroke-width="2.3"/>
<path d="M56.4 615L56.4 620" stroke="#000" stroke-width="1.7"/>
<path d="M94.2 615L94.2 620" stroke="#000" stroke-width="1.7"/>
<path d="M132.2 615L132.2 620" stroke="#000" stroke-width="1.7"/>
<path d="M206 470.8L206 616.1" stroke="#000" stroke-width="2.4"/>
<path d="M201.9 472L206 472" stroke="#000" stroke-width="2.1"/>
<path d="M201.9 519.6L206 519.6" stroke="#000" stroke-width="2.1"/>
<path d="M201.9 567.2L206 567.2" stroke="#000" stroke-width="2.1"/>
<path d="M201.9 614.8L206 614.8" stroke="#000" stroke-width="2.1"/>
<path d="M201.9 614.75L336.6 614.75" stroke="#000" stroke-width="2.8"/>
<path d="M232.1 614.75L232.1 620.3" stroke="#000" stroke-width="2"/>
<path d="M271.4 614.75L271.4 620.3" stroke="#000" stroke-width="2"/>
<path d="M310.6 614.75L310.6 620.3" stroke="#000" stroke-width="2"/>
<path d="M382.45 476.2L382.45 616" stroke="#000" stroke-width="1.4"/>
<path d="M378.9 477L382.45 477" stroke="#000" stroke-width="1.4"/>
<path d="M378.9 523L382.45 523" stroke="#000" stroke-width="1.4"/>
<path d="M378.9 569L382.45 569" stroke="#000" stroke-width="1.4"/>
<path d="M378.9 615L382.45 615" stroke="#000" stroke-width="1.4"/>
<path d="M378.9 615L505.6 615" stroke="#000" stroke-width="2.3"/>
<path d="M406.9 615L406.9 620.2" stroke="#000" stroke-width="1.4"/>
<path d="M443.8 615L443.8 620.2" stroke="#000" stroke-width="1.4"/>
<path d="M481 615L481 620.2" stroke="#000" stroke-width="1.4"/>
<path d="M555.2 473.8L555.2 616" stroke="#000" stroke-width="1.5"/>
<path d="M551.8 474.6L555.2 474.6" stroke="#000" stroke-width="1.5"/>
<path d="M551.8 509.6L555.2 509.6" stroke="#000" stroke-width="1.5"/>
<path d="M551.8 544.6L555.2 544.6" stroke="#000" stroke-width="1.5"/>
<path d="M551.8 579.6L555.2 579.6" stroke="#000" stroke-width="1.5"/>
<path d="M551.8 614.6L555.2 614.6" stroke="#000" stroke-width="1.5"/>
<path d="M551.8 614.75L685 614.75" stroke="#000" stroke-width="2.3"/>
<path d="M580.9 614.75L580.9 620.2" stroke="#000" stroke-width="1.4"/>
<path d="M620 614.75L620 620.2" stroke="#000" stroke-width="1.4"/>
<path d="M658.6 614.75L658.6 620.2" stroke="#000" stroke-width="1.4"/>
</svg>
</body></html>
